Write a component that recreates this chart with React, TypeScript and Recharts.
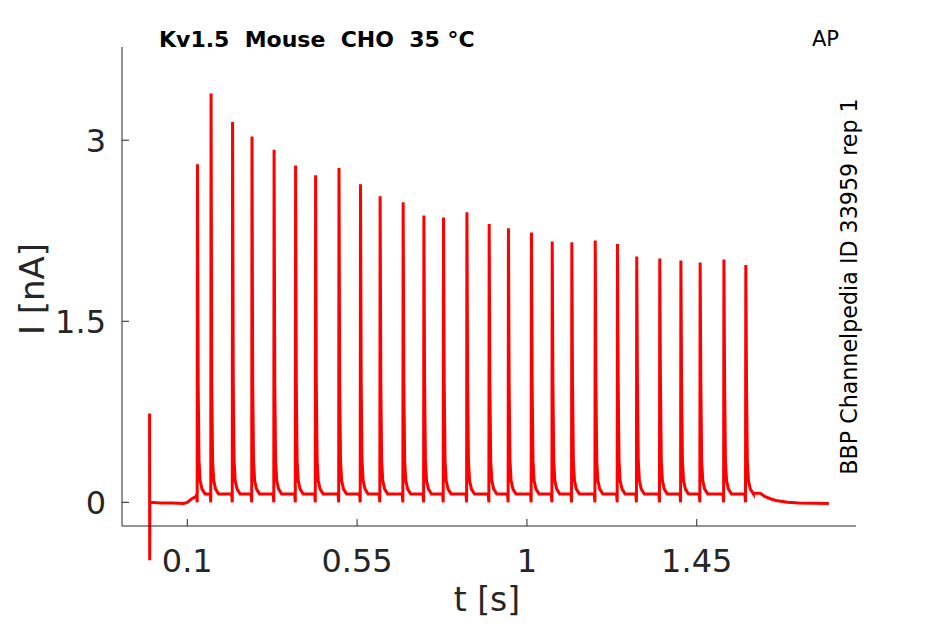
import React from "react";
import { LineChart, Line, XAxis, YAxis } from "recharts";

// spike train: time of each peak (s) and its height (nA)
const spikeTimes = [
  0.127, 0.163, 0.22, 0.2715, 0.33, 0.387, 0.44, 0.502, 0.559, 0.611, 0.672,
  0.727, 0.779, 0.841, 0.9, 0.951, 1.012, 1.067, 1.119, 1.181, 1.24, 1.291,
  1.352, 1.408, 1.459, 1.522, 1.58,
];
const spikePeaks = [
  2.8, 3.387, 3.15, 3.03, 2.92, 2.79, 2.71, 2.77, 2.635, 2.536, 2.486, 2.376,
  2.36, 2.403, 2.306, 2.27, 2.235, 2.16, 2.155, 2.169, 2.14, 2.036, 2.02, 2.003,
  1.986, 2.011, 1.967,
];

// one spike as drawn: offset from the peak (s) and current (nA); null = the peak itself
const spikeOffsets = [-0.0025, -0.0008, 0, 0.0018, 0.004, 0.007, 0.012, 0.02];
const spikeLevels = [0.07, 0.0, null, 1.0, 0.35, 0.18, 0.11, 0.07];

// trace before the first spike (stimulus artefact at t = 0)
const startT = [0, 0.0004, 0.0009, 0.03, 0.06, 0.09, 0.1, 0.112, 0.124];
const startI = [0.735, -0.48, 0.0, -0.005, -0.005, -0.01, 0.0, 0.03, 0.05];

// trace after the last spike
const endT = [1.6, 1.618, 1.63, 1.645, 1.66, 1.69, 1.72, 1.76, 1.8];
const endI = [0.075, 0.075, 0.05, 0.03, 0.015, 0.0, -0.005, -0.008, -0.01];

const xTicks = [0.1, 0.55, 1, 1.45];
const yTicks = [0, 1.5, 3];

const data: { t: number; i: number }[] = [];
startT.forEach((t, k) => data.push({ t, i: startI[k] }));
spikeTimes.forEach((ts, s) => {
  spikeOffsets.forEach((dt, k) => {
    const lvl = spikeLevels[k];
    data.push({ t: ts + dt, i: lvl === null ? spikePeaks[s] : lvl });
  });
});
endT.forEach((t, k) => data.push({ t, i: endI[k] }));

const axisColor = "#262626";
const font = "DejaVu Sans, sans-serif";

const XTick = (props: any) => {
  const { x, y, payload } = props;
  return (
    <g>
      <line x1={x} y1={y} x2={x} y2={y - 7} stroke={axisColor} />
      <text x={x} y={y + 46} textAnchor="middle" fontSize={32} fontFamily={font} fill={axisColor}>
        {payload.value}
      </text>
    </g>
  );
};

const YTick = (props: any) => {
  const { x, y, payload } = props;
  return (
    <g>
      <line x1={x} y1={y} x2={x + 7} y2={y} stroke={axisColor} />
      <text x={x - 16} y={y} dy="0.38em" textAnchor="end" fontSize={32} fontFamily={font} fill={axisColor}>
        {payload.value}
      </text>
    </g>
  );
};

const App: React.FC = () => {
  return (
    <div style={{ position: "absolute", left: 0, top: 0, width: 945, height: 624, background: "#fff" }}>
      {/* the artefact at t = 0 dips below the axis in the original, so no clipping */}
      <style>{`.recharts-wrapper [clip-path] { clip-path: none !important; }`}</style>
      <LineChart width={945} height={624} data={data} margin={{ top: 47, right: 89, bottom: 38, left: 42 }}>
        <XAxis
          type="number"
          dataKey="t"
          domain={[-0.073, 1.872]}
          ticks={xTicks}
          allowDataOverflow
          height={60}
          tickSize={0}
          tickMargin={0}
          tickLine={false}
          stroke={axisColor}
          tick={<XTick />}
        />
        <YAxis
          type="number"
          domain={[-0.196, 3.772]}
          ticks={yTicks}
          allowDataOverflow
          width={80}
          tickSize={0}
          tickMargin={0}
          tickLine={false}
          stroke={axisColor}
          tick={<YTick />}
        />
        <Line
          type="linear"
          dataKey="i"
          stroke="#ff0000"
          strokeWidth={3}
          dot={false}
          isAnimationActive={false}
        />
      </LineChart>
      <svg width={945} height={624} style={{ position: "absolute", left: 0, top: 0, pointerEvents: "none" }}>
        <text x={159} y={47} fontSize={22} fontWeight="bold" fontFamily={font} fill="#000" xmlSpace="preserve">
          Kv1.5  Mouse  CHO  35 °C
        </text>
        <text x={812} y={46} fontSize={21} fontFamily={font} fill="#000">
          AP
        </text>
        <text
          transform="translate(857 286.5) rotate(-90)"
          textAnchor="middle"
          fontSize={22.2}
          fontFamily={font}
          fill="#000"
        >
          BBP Channelpedia ID 33959 rep 1
        </text>
        <text x={487} y={611} textAnchor="middle" fontSize={33} fontFamily={font} fill={axisColor}>
          t [s]
        </text>
        <text
          transform="translate(44 289) rotate(-90)"
          textAnchor="middle"
          fontSize={34}
          fontFamily={font}
          fill={axisColor}
        >
          I [nA]
        </text>
      </svg>
    </div>
  );
};

export default App;
